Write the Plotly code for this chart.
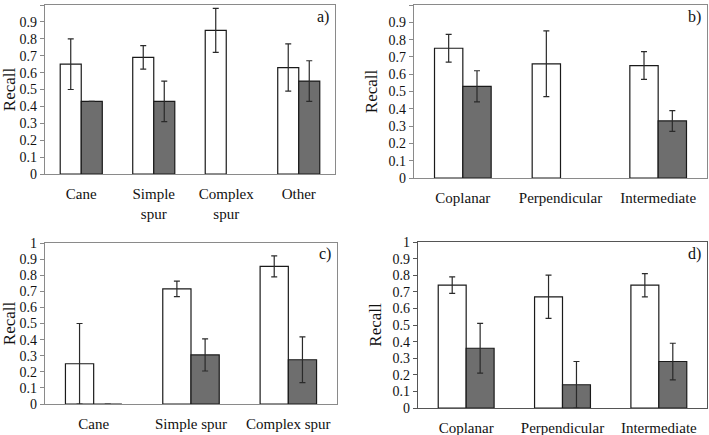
import plotly.graph_objects as go

# Panel a
cats_a = ["Cane", "Simple<br>spur", "Complex<br>spur", "Other"]
white_a = [0.65, 0.69, 0.85, 0.63]
white_a_err = [0.15, 0.07, 0.13, 0.14]
gray_a = [0.43, 0.43, None, 0.55]
gray_a_err = [0.0, 0.12, 0.0, 0.12]

# Panel b
cats_b = ["Coplanar", "Perpendicular", "Intermediate"]
white_b = [0.75, 0.66, 0.65]
white_b_err = [0.08, 0.19, 0.08]
gray_b = [0.53, None, 0.33]
gray_b_err = [0.09, 0.0, 0.06]

# Panel c
cats_c = ["Cane", "Simple spur", "Complex spur"]
white_c = [0.25, 0.715, 0.855]
white_c_err = [0.25, 0.048, 0.065]
gray_c = [0.0, 0.305, 0.275]
gray_c_err = [0.0, 0.1, 0.142]

# Panel d
cats_d = ["Coplanar", "Perpendicular", "Intermediate"]
white_d = [0.74, 0.67, 0.74]
white_d_err = [0.05, 0.13, 0.07]
gray_d = [0.36, 0.14, 0.28]
gray_d_err = [0.15, 0.14, 0.11]

panel_labels = ["a)", "b)", "c)", "d)"]
y_ticks = [0, 0.1, 0.2, 0.3, 0.4, 0.5, 0.6, 0.7, 0.8, 0.9, 1]
y_ticktext = ["0", "0.1", "0.2", "0.3", "0.4", "0.5", "0.6", "0.7", "0.8", "0.9", "1"]

W, H = 709, 435
FONT = "'Liberation Serif', 'Times New Roman', Times, serif"

# pixel boxes: (x0, x1, ytop, ybottom)
boxes = [(45, 335, 5, 174), (414, 707, 5, 178), (45, 337, 243, 404), (418, 707, 242, 408)]
frame_cols = ["#8a8a8a", "#8a8a8a", "#8a8a8a", "#555555"]

panels = [
    (cats_a, white_a, white_a_err, gray_a, gray_a_err),
    (cats_b, white_b, white_b_err, gray_b, gray_b_err),
    (cats_c, white_c, white_c_err, gray_c, gray_c_err),
    (cats_d, white_d, white_d_err, gray_d, gray_d_err),
]

fig = go.Figure()
layout = {}
annotations = []
for i, (cats, wv, we, gv, ge) in enumerate(panels):
    n = "" if i == 0 else str(i + 1)
    xa, ya = "x" + n, "y" + n
    fig.add_trace(go.Bar(
        x=cats, y=wv, xaxis=xa, yaxis=ya, showlegend=False,
        marker=dict(color="white", line=dict(color="#1a1a1a", width=1.2)),
        error_y=dict(type="data", array=we, visible=True, color="#2a2a2a", thickness=1.2, width=3),
    ))
    fig.add_trace(go.Bar(
        x=cats, y=gv, xaxis=xa, yaxis=ya, showlegend=False,
        marker=dict(color="#6e6e6e", line=dict(color="#1a1a1a", width=1.2)),
        error_y=dict(type="data", array=ge, visible=True, color="#2a2a2a", thickness=1.2, width=3),
    ))
    x0, x1, yt, yb = boxes[i]
    layout["xaxis" + n] = dict(
        domain=[x0 / W, x1 / W], anchor=ya, type="category",
        showline=True, linecolor=frame_cols[i], linewidth=1.2, mirror=True,
        ticks="", tickfont=dict(family=FONT, size=15, color="#111"),
        showgrid=False, fixedrange=True, ticklabelstandoff=6, automargin=False,
    )
    layout["yaxis" + n] = dict(
        domain=[1 - yb / H, 1 - yt / H], anchor=xa, range=[0, 1],
        tickvals=y_ticks, ticktext=y_ticktext,
        showline=True, linecolor=frame_cols[i], linewidth=1.2, mirror=True,
        ticks="outside", ticklen=4, tickcolor=frame_cols[i],
        tickfont=dict(family=FONT, size=14, color="#111"),
        showgrid=False, zeroline=False, fixedrange=True, automargin=False,
        title=dict(text="Recall", font=dict(family=FONT, size=17, color="#111"), standoff=6),
    )
    annotations.append(dict(
        text=panel_labels[i], xref=xa + " domain", yref=ya + " domain",
        x=0.985, y=0.93, xanchor="right", yanchor="middle", showarrow=False,
        font=dict(family=FONT, size=16, color="#111"),
    ))

fig.update_layout(
    width=W, height=H, margin=dict(l=0, r=0, t=0, b=0, autoexpand=False),
    paper_bgcolor="white", plot_bgcolor="white",
    barmode="group", bargap=0.42, bargroupgap=0,
    annotations=annotations, **layout,
)
fig.write_html(
    "out.html",
    config={"displayModeBar": False},
    post_script="document.body.style.margin='0';document.body.style.overflow='hidden';",
)
